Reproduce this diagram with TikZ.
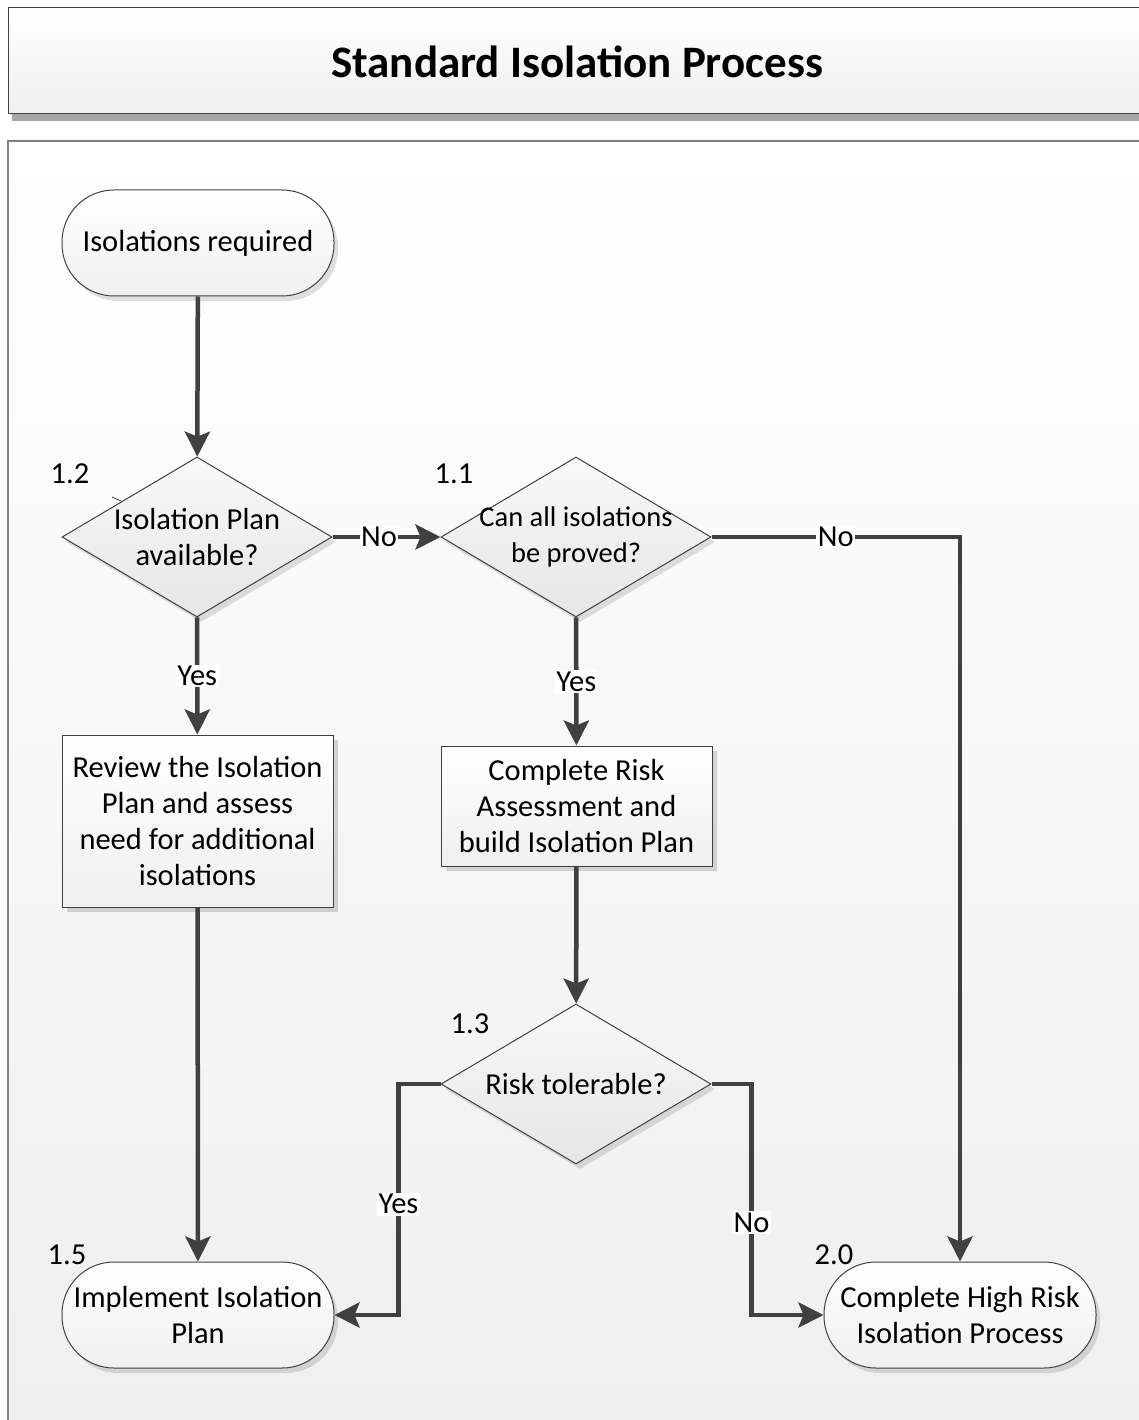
\documentclass[tikz,border=0pt]{standalone}
\usepackage{fontspec}
\setmainfont{Carlito}
\usetikzlibrary{arrows.meta,shapes.geometric,shadows}

\definecolor{linegray}{HTML}{404040}
\definecolor{panelgray}{HTML}{EFEFEF}

\begin{document}
\begin{tikzpicture}[x=1pt, y=-1pt,
  every node/.style={font=\fontsize{30.5}{36}\selectfont},
  flow/.style={draw=linegray, line width=4.5pt,
    arrows={-Stealth[length=25pt, width=25pt, inset=5pt]}},
  answer/.style={fill=white, inner sep=1.5pt},
  stepnum/.style={inner sep=0pt},
  terminal/.style={draw=linegray, line width=1pt, rounded corners=52pt,
    minimum width=272pt, minimum height=106pt, align=center,
    top color=white, bottom color=gray!12,
    drop shadow={shadow xshift=4pt, shadow yshift=-5pt, fill=black, opacity=0.12}},
  decision/.style={diamond, draw=linegray, line width=1pt, inner sep=0pt,
    minimum width=270pt, minimum height=160pt,
    top color=gray!5, bottom color=gray!20,
    drop shadow={shadow xshift=4pt, shadow yshift=-5pt, fill=black, opacity=0.12}},
  process/.style={rectangle, draw=linegray, line width=1pt, minimum width=271pt,
    align=center, top color=white, bottom color=gray!12,
    drop shadow={shadow xshift=5pt, shadow yshift=-5pt, fill=black, opacity=0.15}}]
  \useasboundingbox (0,0) rectangle (1139,1420);
  % Draw header and panel
  \fill[black!35] (12,14) rectangle (1150,121);
  \draw[draw=linegray, line width=1pt, top color=white, bottom color=panelgray]
    (8,8) rectangle (1150,114);
  \node[font=\fontsize{45}{54}\selectfont\bfseries] (title) at (577,62) {Standard Isolation Process};
  \draw[draw=gray, line width=1.5pt, top color=white, bottom color=panelgray]
    (8,141) rectangle (1150,1430);
  % Draw shapes
  \node[terminal] (start) at (198,243) {Isolations required};
  \node[decision, label={[align=center]center:Isolation Plan\\available?}] (d12) at (197,537) {};
  \node[decision, label={[align=center, font=\fontsize{28.5}{36}\selectfont]center:Can all isolations\\be proved?}] (d11) at (576,537) {};
  \node[process, minimum height=172pt] (review) at (197.5,821)
    {Review the Isolation\\Plan and assess\\need for additional\\isolations};
  \node[process, minimum height=120pt] (riskplan) at (576.5,806)
    {Complete Risk\\Assessment and\\build Isolation Plan};
  \node[decision, label={center:Risk tolerable?}] (d13) at (576,1084) {};
  \node[terminal] (t15) at (198,1315) {Implement Isolation\\Plan};
  \node[terminal] (t20) at (960,1315) {Complete High Risk\\Isolation Process};
  % Add step numbers
  \node[stepnum] (n12) at (70,474) {1.2};
  \node[stepnum] (n11) at (454,474) {1.1};
  \node[stepnum] (n13) at (470,1024) {1.3};
  \node[stepnum] (n15) at (67,1255) {1.5};
  \node[stepnum] (n20) at (834,1255) {2.0};
  \draw[linegray, line width=0.8pt] (112,497) -- (121,501);
  % Draw connectors
  \draw[flow] (start) -- (d12);
  \draw[flow] (d12) -- node[answer, pos=0.43] {No} (d11);
  \draw[flow] (d11.east) -| node[answer, pos=0.25] {No} (t20);
  \draw[flow] (d12) -- node[answer] {Yes} (review);
  \draw[flow] (d11) -- node[answer] {Yes} (riskplan);
  \draw[flow] (riskplan) -- (d13);
  \draw[flow] (review) -- (t15);
  \draw[flow] (d13.west) -- ++(-42,0) |- node[answer, pos=0.26] {Yes} (t15.east);
  \draw[flow] (d13.east) -- ++(40,0) |- node[answer, pos=0.3] {No} (t20.west);
\end{tikzpicture}
\end{document}
